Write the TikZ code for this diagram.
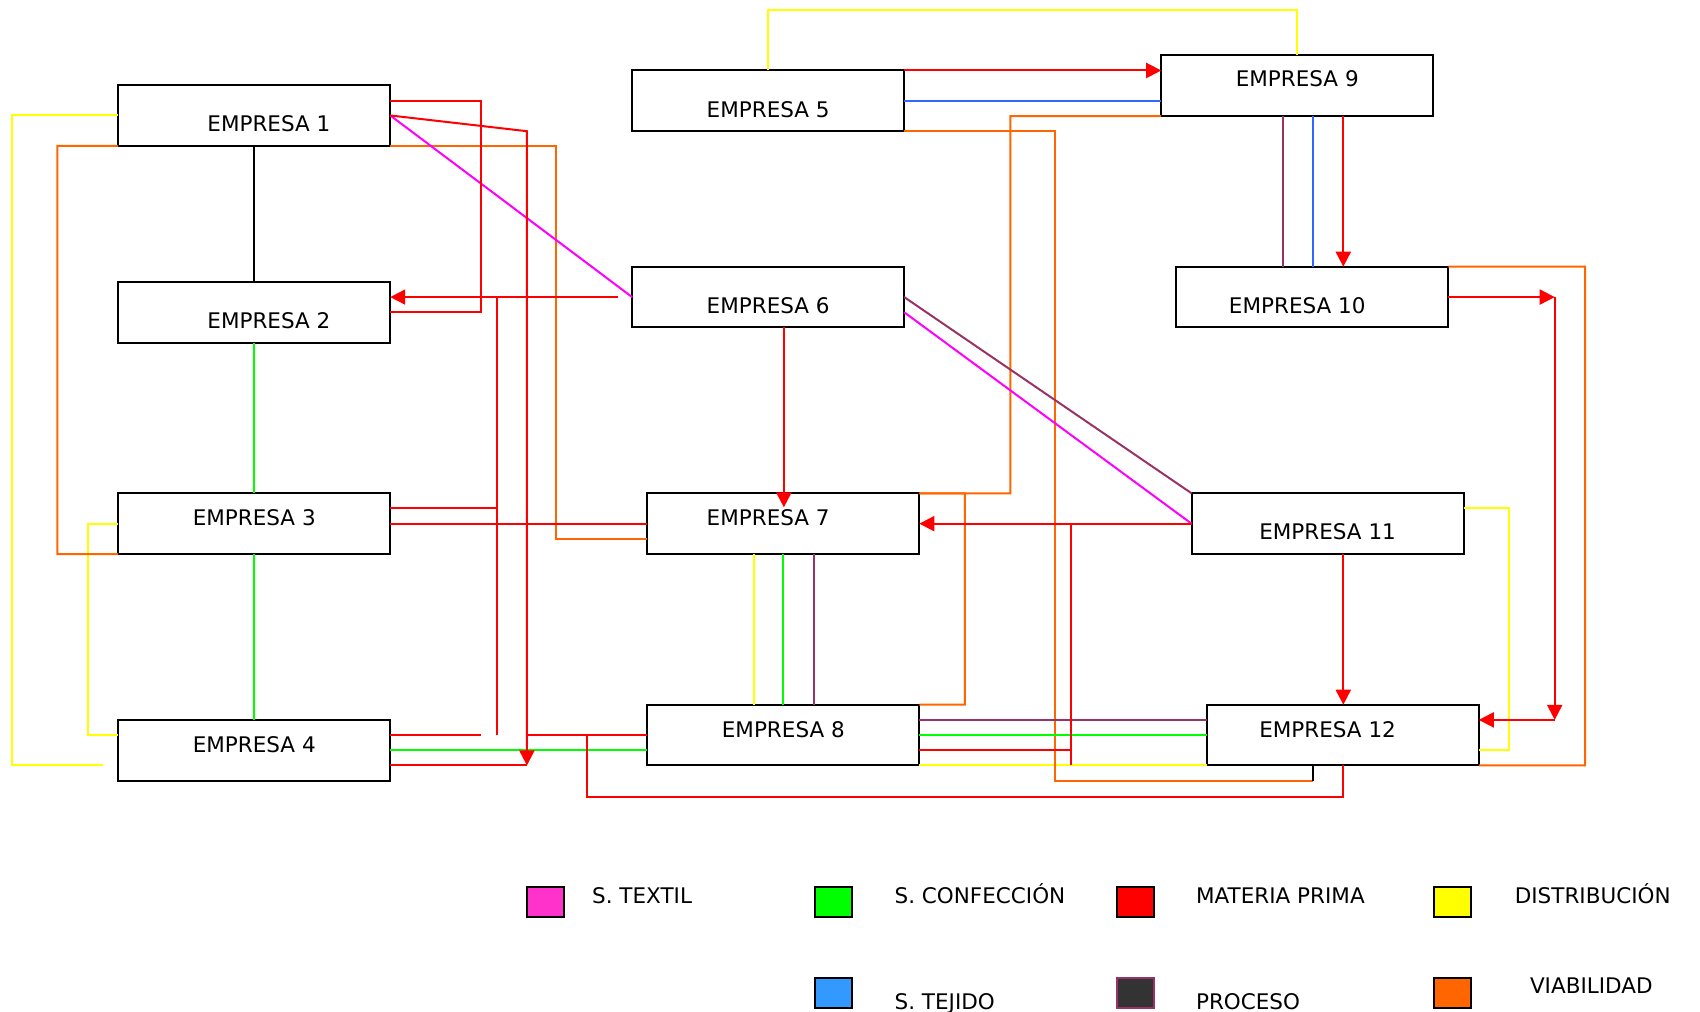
\documentclass[tikz,border=0pt]{standalone}
\usepackage{fontspec}
\setmainfont{DejaVu Sans}
\usepackage{tikz}
\usetikzlibrary{arrows.meta}
\usetikzlibrary{decorations.markings}
\definecolor{cTextil}{HTML}{FF00FF}
\definecolor{cTextilLey}{HTML}{FF33CC}
\definecolor{cConf}{HTML}{00FF00}
\definecolor{cMateria}{HTML}{FF0000}
\definecolor{cDistrib}{HTML}{FFFF00}
\definecolor{cTejido}{HTML}{3366FF}
\definecolor{cTejidoLey}{HTML}{3399FF}
\definecolor{cProceso}{HTML}{993366}
\definecolor{cProcesoLey}{HTML}{333333}
\definecolor{cViab}{HTML}{FF6600}
\tikzset{empresa/.style = {draw, line width = 2pt, minimum width = 272pt,
                           minimum height = 60.7pt, inner sep = 0, outer sep = 0}}
\tikzset{nombre/.style = {anchor = base, inner sep = 0, font = \fontsize{21.5}{25}\selectfont}}
\tikzset{leyenda/.style = {anchor = base west, inner sep = 0, font = \fontsize{21.5}{25}\selectfont}}
\tikzset{cuadro/.style = {draw, line width = 1.8pt, minimum width = 37pt,
                          minimum height = 30.5pt, inner sep = 0}}
\tikzset{flecha/.style = {shorten > = 6pt,
                          decoration={markings,
                                      mark=at position 1 with {\arrow{Triangle[length=15pt, width=15pt]}}},
                          postaction={decorate}}}
\tikzset{textil/.style = {draw = cTextil, line width = 2pt}}
\tikzset{confeccion/.style = {draw = cConf, line width = 2pt}}
\tikzset{materia/.style = {draw = cMateria, line width = 2pt}}
\tikzset{distrib/.style = {draw = cDistrib, line width = 2pt}}
\tikzset{tejido/.style = {draw = cTejido, line width = 2pt}}
\tikzset{proceso/.style = {draw = cProceso, line width = 2pt}}
\tikzset{viab/.style = {draw = cViab, line width = 2pt}}

\begin{document}
\begin{tikzpicture}[x = {(1.0842pt, 0)}, y = {(0, -1.0842pt)}]
  \useasboundingbox (0, 0) rectangle (1568, 933);

  \node [empresa] (e1) at (234.5, 106.5) {};
  \node [empresa] (e2) at (234.5, 288) {};
  \node [empresa] (e3) at (234.5, 483) {};
  \node [empresa] (e4) at (234.5, 692) {};
  \node [empresa] (e5) at (708.5, 93) {};
  \node [empresa] (e6) at (708.5, 274) {};
  \node [empresa] (e7) at (722.5, 483) {};
  \node [empresa] (e8) at (722.5, 678) {};
  \node [empresa] (e9) at (1196.5, 79) {};
  \node [empresa] (e10) at (1210.5, 274) {};
  \node [empresa] (e11) at (1224.5, 483) {};
  \node [empresa] (e12) at (1238.5, 678) {};

  \node [nombre] (n1) at (248, 121.5) {EMPRESA 1};
  \node [nombre] (n2) at (248, 303) {EMPRESA 2};
  \node [nombre] (n3) at (234.5, 484.5) {EMPRESA 3};
  \node [nombre] (n4) at (234.5, 694) {EMPRESA 4};
  \node [nombre] (n5) at (708.5, 108) {EMPRESA 5};
  \node [nombre] (n6) at (708.5, 289) {EMPRESA 6};
  \node [nombre] (n7) at (708.5, 484.5) {EMPRESA 7};
  \node [nombre] (n8) at (722.5, 680) {EMPRESA 8};
  \node [nombre] (n9) at (1196.5, 80) {EMPRESA 9};
  \node [nombre] (n10) at (1196.5, 289) {EMPRESA 10};
  \node [nombre] (n11) at (1224.5, 498) {EMPRESA 11};
  \node [nombre] (n12) at (1224.5, 680) {EMPRESA 12};

  \coordinate (y1fin) at (95, 706);
  \coordinate (r2fin) at (486, 706);
  \coordinate (r4ini) at (570, 274);
  \coordinate (r5a) at (458, 274);
  \coordinate (r5b) at (458, 678);
  \coordinate (r6fin) at (458, 469);
  \coordinate (r8fin) at (444, 678);
  \coordinate (r9ini) at (486, 678);
  \coordinate (r10ini) at (541, 678);
  \coordinate (r11fin) at (723, 468);
  \coordinate (r15a) at (988, 483);
  \coordinate (r15b) at (988, 706);
  \coordinate (r15c) at (988, 692);
  \coordinate (r17a) at (1434, 274);
  \coordinate (r17b) at (1434, 664);
  \coordinate (o3fin) at (1211, 720);

  \draw [distrib] (e1.west) -| (11, 706) -- (y1fin);
  \draw [distrib] (e3.west) -| (81, 678) -- (e4.west |- 0, 678);
  \draw [distrib] (e5.north) |- (1196.5, 9) -- (e9.north);
  \draw [distrib] (695, 0 |- e7.south) -- (695, 0 |- e8.north);
  \draw [distrib] (e8.south east) -- (e12.south west);
  \draw [distrib] (e11.east |- 0, 469) -| (1392, 692) -- (e12.east |- 0, 692);

  \draw [viab] (e1.south west) -| (53, 511) -- (e3.south west);
  \draw [viab] (e1.south east) -| (513, 497) -- (e7.west |- 0, 497);
  \draw [viab] (e5.south east) -| (973, 720) -- (o3fin);
  \draw [viab] (e9.south west) -| (932, 455) -- (e7.north east);
  \draw [viab] (e7.north east) -| (890, 650) -- (e8.north east);
  \draw [viab] (e10.north east) -| (1462, 706) -- (e12.south east);
  \draw [line width = 2pt] (o3fin) -- (o3fin |- e12.south);

  \draw [confeccion] (e2.south) -- (e3.north);
  \draw [confeccion] (e3.south) -- (e4.north);
  \draw [confeccion] (e7.south) -- (e8.north);
  \draw [confeccion] (e4.east) -- (e8.west |- e4.east);
  \draw [confeccion] (e8.east) -- (e12.west);

  \draw [tejido] (e5.east) -- (e9.west |- e5.east);
  \draw [tejido] (1211, 0 |- e9.south) -- (1211, 0 |- e10.north);

  \draw [proceso] (1183, 0 |- e9.south) -- (1183, 0 |- e10.north);
  \draw [proceso] (751, 0 |- e7.south) -- (751, 0 |- e8.north);
  \draw [proceso] (e8.east |- 0, 664) -- (e12.west |- 0, 664);
  \draw [proceso] (e6.east) -- (e11.north west);
  \draw [line width = 2pt] (e1.south) -- (e2.north);

  \draw [textil] (e1.east) -- (e6.west);
  \draw [textil] (e6.east |- 0, 288) -- (e11.west);

  \draw [materia] (e1.east |- 0, 93) -| (444, 288) -- (e2.east);
  \draw [materia, flecha] (e1.east) -- (486, 121) -- (r2fin);
  \draw [materia] (e4.east |- r2fin) -- (r2fin);
  \draw [materia, flecha] (r4ini) -- (e2.east |- r4ini);
  \draw [materia] (r5a) -- (r5b);
  \draw [materia] (e3.east |- r6fin) -- (r6fin);
  \draw [materia] (e3.east) -- (e7.west);
  \draw [materia] (e4.east |- r8fin) -- (r8fin);
  \draw [materia] (r9ini) -- (e8.west);
  \draw [materia] (r10ini) |- (1238.5, 735) -- (e12.south);
  \draw [materia, flecha] (723, 0 |- e6.south) -- (r11fin);
  \draw [materia, flecha] (e5.north east) -- (e9.west |- e5.north east);
  \draw [materia, flecha] (1239, 0 |- e9.south) -- (1239, 0 |- e10.north);
  \draw [materia, flecha] (e11.west) -- (e7.east);
  \draw [materia] (r15a) -- (r15b);
  \draw [materia] (e8.east |- r15c) -- (r15c);
  \draw [materia, flecha] (1239, 0 |- e11.south) -- (1239, 0 |- e12.north);
  \draw [materia, flecha] (e10.east) -- (r17a);
  \draw [materia, flecha] (r17a) -- (r17b);
  \draw [materia, flecha] (r17b) -- (e12.east |- r17b);

  \node [cuadro, fill = cTextilLey] (c1) at (503, 832) {};
  \node [cuadro, fill = cConf] (c2) at (768.5, 832) {};
  \node [cuadro, fill = cMateria] (c3) at (1047.5, 832) {};
  \node [cuadro, fill = cDistrib] (c4) at (1340, 832) {};
  \node [cuadro, fill = cTejidoLey] (c5) at (768.5, 916) {};
  \node [cuadro, fill = cProcesoLey, draw = cProceso] (c6) at (1047.5, 916) {};
  \node [cuadro, fill = cViab] (c7) at (1340, 916) {};

  \node [leyenda] (l1) at (546, 833) {S. TEXTIL};
  \node [leyenda] (l2) at (825, 833) {S. CONFECCIÓN};
  \node [leyenda] (l3) at (1103, 833) {MATERIA PRIMA};
  \node [leyenda] (l4) at (1397, 833) {DISTRIBUCIÓN};
  \node [leyenda] (l5) at (825, 931) {S. TEJIDO};
  \node [leyenda] (l6) at (1103, 931) {PROCESO};
  \node [leyenda] (l7) at (1411, 916) {VIABILIDAD};
\end{tikzpicture}
\end{document}
